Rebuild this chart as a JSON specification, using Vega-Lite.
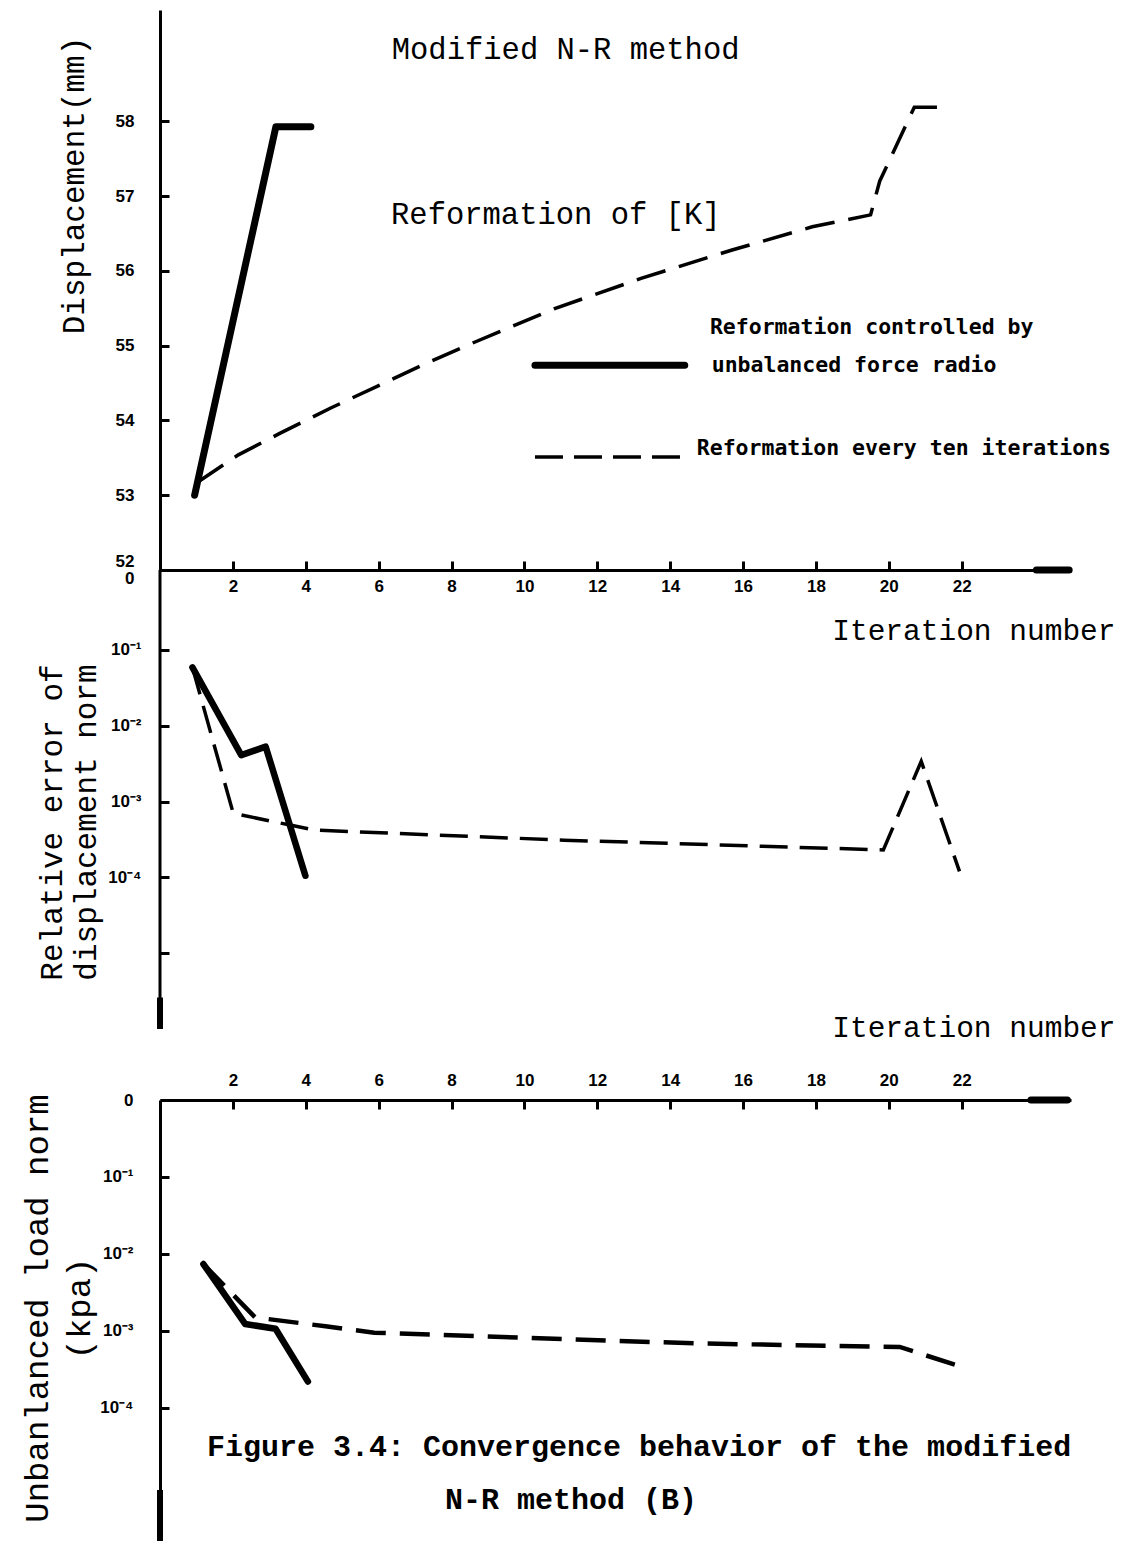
{
  "$schema": "https://vega.github.io/schema/vega-lite/v6.json",
  "background": "white",
  "padding": {"left": 19, "top": 10, "right": 5, "bottom": 0},
  "config": {
    "view": {"stroke": null},
    "axis": {
      "grid": false,
      "domainColor": "black",
      "tickColor": "black",
      "domainWidth": 3,
      "tickWidth": 3,
      "labelColor": "black",
      "titleColor": "black",
      "labelFont": "Liberation Sans Narrow, Liberation Sans, sans-serif",
      "labelFontWeight": "bold",
      "labelFontSize": 17,
      "titleFont": "Liberation Mono",
      "titleFontWeight": "normal"
    }
  },
  "datasets": {
    "curves": [
      {"panel": "disp", "series": "controlled", "iter": 0.95, "value": 53.0},
      {"panel": "disp", "series": "controlled", "iter": 3.18, "value": 57.93},
      {"panel": "disp", "series": "controlled", "iter": 4.14, "value": 57.93},
      {"panel": "disp", "series": "every10", "iter": 1.05, "value": 53.18},
      {"panel": "disp", "series": "every10", "iter": 2.15, "value": 53.54},
      {"panel": "disp", "series": "every10", "iter": 3.3, "value": 53.83},
      {"panel": "disp", "series": "every10", "iter": 4.7, "value": 54.17},
      {"panel": "disp", "series": "every10", "iter": 7.2, "value": 54.74},
      {"panel": "disp", "series": "every10", "iter": 8.55, "value": 55.03},
      {"panel": "disp", "series": "every10", "iter": 10.85, "value": 55.5},
      {"panel": "disp", "series": "every10", "iter": 13.2, "value": 55.9},
      {"panel": "disp", "series": "every10", "iter": 15.7, "value": 56.28},
      {"panel": "disp", "series": "every10", "iter": 17.9, "value": 56.59},
      {"panel": "disp", "series": "every10", "iter": 19.5, "value": 56.75},
      {"panel": "disp", "series": "every10", "iter": 19.75, "value": 57.2},
      {"panel": "disp", "series": "every10", "iter": 20.7, "value": 58.19},
      {"panel": "disp", "series": "every10", "iter": 21.7, "value": 58.19},
      {"panel": "err", "series": "controlled", "iter": 0.89, "value": 0.059},
      {"panel": "err", "series": "controlled", "iter": 2.23, "value": 0.0041},
      {"panel": "err", "series": "controlled", "iter": 2.9, "value": 0.0053},
      {"panel": "err", "series": "controlled", "iter": 3.99, "value": 0.000105},
      {"panel": "err", "series": "every10", "iter": 0.89, "value": 0.059},
      {"panel": "err", "series": "every10", "iter": 2.01, "value": 0.0007},
      {"panel": "err", "series": "every10", "iter": 3.57, "value": 0.00049},
      {"panel": "err", "series": "every10", "iter": 4.24, "value": 0.00042},
      {"panel": "err", "series": "every10", "iter": 11.08, "value": 0.00031},
      {"panel": "err", "series": "every10", "iter": 19.85, "value": 0.00023},
      {"panel": "err", "series": "every10", "iter": 20.89, "value": 0.0034},
      {"panel": "err", "series": "every10", "iter": 21.94, "value": 0.00012},
      {"panel": "load", "series": "controlled", "iter": 1.19, "value": 0.0074},
      {"panel": "load", "series": "controlled", "iter": 2.34, "value": 0.00123},
      {"panel": "load", "series": "controlled", "iter": 3.17, "value": 0.00107},
      {"panel": "load", "series": "controlled", "iter": 4.06, "value": 0.00022},
      {"panel": "load", "series": "every10", "iter": 1.19, "value": 0.0074},
      {"panel": "load", "series": "every10", "iter": 2.61, "value": 0.0015},
      {"panel": "load", "series": "every10", "iter": 4.54, "value": 0.00115},
      {"panel": "load", "series": "every10", "iter": 5.88, "value": 0.00095},
      {"panel": "load", "series": "every10", "iter": 14.65, "value": 0.00069},
      {"panel": "load", "series": "every10", "iter": 20.3, "value": 0.00062},
      {"panel": "load", "series": "every10", "iter": 22.01, "value": 0.00034}
    ]
  },
  "bounds": "flush",
  "spacing": 0,
  "vconcat": [
    {
      "width": 911,
      "height": 560,
      "data": {"name": "curves"},
      "transform": [{"filter": "datum.panel == 'disp'"}],
      "layer": [
        {
          "transform": [{"filter": "datum.series == 'controlled'"}],
          "mark": {"type": "line", "color": "black", "strokeWidth": 7, "strokeCap": "round", "strokeJoin": "round"},
          "encoding": {
            "x": {
              "field": "iter", "type": "quantitative",
              "scale": {"domain": [0, 25], "nice": false, "zero": false},
              "axis": {
                "values": [2, 4, 6, 8, 10, 12, 14, 16, 18, 20, 22],
                "tickSize": -9, "labelPadding": 17, "labelBaseline": "top",
                "title": "Iteration number", "titleFontSize": 29.5,
                "titleX": 955, "titleY": 60, "titleAlign": "right", "titleBaseline": "middle", "titleAngle": 0
              }
            },
            "y": {
              "field": "value", "type": "quantitative",
              "scale": {"domain": [52, 59.49], "nice": false, "zero": false},
              "axis": {
                "values": [52, 53, 54, 55, 56, 57, 58],
                "labelExpr": "datum.value == 52 ? ['52', '0'] : format(datum.value, 'd')",
                "labelLineHeight": 17,
                "labelOffset": {"condition": {"test": "datum.value == 52", "value": -9}, "value": 0},
                "tickSize": -9, "labelPadding": 35,
                "title": "Displacement(mm)", "titleFontSize": 31,
                "titleAngle": -90, "titleX": -86, "titleY": 175, "titleAlign": "center", "titleBaseline": "middle"
              }
            }
          }
        },
        {
          "transform": [{"filter": "datum.series == 'every10'"}],
          "mark": {"type": "line", "color": "black", "strokeWidth": 3.5, "strokeDash": [30, 14]},
          "encoding": {
            "x": {"field": "iter", "type": "quantitative"},
            "y": {"field": "value", "type": "quantitative"}
          }
        },
        {
          "data": {"values": [{}]},
          "mark": {"type": "text", "font": "Liberation Mono", "fontSize": 30.5, "align": "left", "baseline": "middle", "color": "black"},
          "encoding": {"x": {"datum": 6.36}, "y": {"datum": 58.95}, "text": {"value": "Modified N-R method"}}
        },
        {
          "data": {"values": [{}]},
          "mark": {"type": "text", "font": "Liberation Mono", "fontSize": 30.5, "align": "left", "baseline": "middle", "color": "black"},
          "encoding": {"x": {"datum": 6.34}, "y": {"datum": 56.75}, "text": {"value": "Reformation of [K]"}}
        },
        {
          "data": {"values": [{}]},
          "mark": {"type": "rule", "color": "black", "strokeWidth": 7, "strokeCap": "round"},
          "encoding": {"x": {"datum": 10.29}, "x2": {"datum": 14.4}, "y": {"datum": 54.74}}
        },
        {
          "data": {"values": [{}]},
          "mark": {"type": "rule", "color": "black", "strokeWidth": 3.5, "strokeDash": [28, 11]},
          "encoding": {"x": {"datum": 10.29}, "x2": {"datum": 14.32}, "y": {"datum": 53.51}}
        },
        {
          "data": {"values": [{}]},
          "mark": {"type": "text", "font": "DejaVu Sans Mono", "fontWeight": "bold", "fontSize": 21.5, "align": "left", "baseline": "middle", "color": "black"},
          "encoding": {"x": {"datum": 15.09}, "y": {"datum": 55.24}, "text": {"value": "Reformation controlled by"}}
        },
        {
          "data": {"values": [{}]},
          "mark": {"type": "text", "font": "DejaVu Sans Mono", "fontWeight": "bold", "fontSize": 21.5, "align": "left", "baseline": "middle", "color": "black"},
          "encoding": {"x": {"datum": 15.14}, "y": {"datum": 54.73}, "text": {"value": "unbalanced force radio"}}
        },
        {
          "data": {"values": [{}]},
          "mark": {"type": "text", "font": "DejaVu Sans Mono", "fontWeight": "bold", "fontSize": 21.5, "align": "left", "baseline": "middle", "color": "black"},
          "encoding": {"x": {"datum": 14.73}, "y": {"datum": 53.62}, "text": {"value": "Reformation every ten iterations"}}
        },
        {
          "data": {"values": [{}]},
          "mark": {"type": "rule", "color": "black", "strokeWidth": 7, "strokeCap": "round"},
          "encoding": {"x": {"datum": 24.05}, "x2": {"datum": 24.95}, "y": {"datum": 52}}
        }
      ]
    },
    {
      "width": 911,
      "height": 530,
      "data": {"name": "curves"},
      "transform": [{"filter": "datum.panel == 'err'"}],
      "layer": [
        {
          "transform": [{"filter": "datum.series == 'controlled'"}],
          "mark": {"type": "line", "color": "black", "strokeWidth": 6.5, "strokeCap": "round", "strokeJoin": "round"},
          "encoding": {
            "x": {"field": "iter", "type": "quantitative", "scale": {"domain": [0, 25], "nice": false, "zero": false}, "axis": null},
            "y": {
              "field": "value", "type": "quantitative",
              "scale": {"type": "log", "domain": [0.0000001156, 1.136], "nice": false},
              "axis": {
                "domain": false,
                "values": [0.1, 0.01, 0.001, 0.0001, 0.00001],
                "labelExpr": "datum.value > 0.05 ? '10⁻¹' : datum.value > 0.005 ? '10⁻²' : datum.value > 0.0005 ? '10⁻³' : datum.value > 0.00005 ? '10⁻⁴' : ''",
                "tickSize": -9, "labelPadding": 28,
                "title": ["Relative error of", "displacement norm"], "titleFontSize": 31, "titleLineHeight": 34,
                "titleAngle": -90, "titleX": -108, "titleY": 252, "titleAlign": "center", "titleBaseline": "middle"
              }
            }
          }
        },
        {
          "transform": [{"filter": "datum.series == 'every10'"}],
          "mark": {"type": "line", "color": "black", "strokeWidth": 3.5, "strokeDash": [28, 12]},
          "encoding": {
            "x": {"field": "iter", "type": "quantitative"},
            "y": {"field": "value", "type": "quantitative"}
          }
        },
        {
          "data": {"values": [{}]},
          "mark": {"type": "rule", "color": "black", "strokeWidth": 3},
          "encoding": {"x": {"datum": 0}, "y": {"datum": 1.136}, "y2": {"datum": 0.000001}}
        },
        {
          "data": {"values": [{}]},
          "mark": {"type": "rule", "color": "black", "strokeWidth": 6},
          "encoding": {"x": {"datum": 0}, "y": {"datum": 0.0000026}, "y2": {"datum": 0.000001}}
        }
      ]
    },
    {
      "width": 911,
      "height": 441,
      "data": {"name": "curves"},
      "transform": [{"filter": "datum.panel == 'load'"}],
      "layer": [
        {
          "transform": [{"filter": "datum.series == 'controlled'"}],
          "mark": {"type": "line", "color": "black", "strokeWidth": 6.5, "strokeCap": "round", "strokeJoin": "round"},
          "encoding": {
            "x": {
              "field": "iter", "type": "quantitative",
              "scale": {"domain": [0, 25], "nice": false, "zero": false},
              "axis": {
                "orient": "top",
                "values": [2, 4, 6, 8, 10, 12, 14, 16, 18, 20, 22],
                "tickSize": -9, "labelPadding": 20, "labelBaseline": "bottom",
                "title": "Iteration number", "titleFontSize": 29.5,
                "titleX": 955, "titleY": -73, "titleAlign": "right", "titleBaseline": "middle", "titleAngle": 0
              }
            },
            "y": {
              "field": "value", "type": "quantitative",
              "scale": {"type": "log", "domain": [0.00000187, 1], "nice": false},
              "axis": {
                "values": [1, 0.1, 0.01, 0.001, 0.0001],
                "labelExpr": "datum.value > 0.5 ? '0' : datum.value > 0.05 ? '10⁻¹' : datum.value > 0.005 ? '10⁻²' : datum.value > 0.0005 ? '10⁻³' : '10⁻⁴'",
                "tickSize": -9, "labelPadding": 36,
                "title": ["Unbanlanced load norm", "(kpa)"], "titleFontSize": 34, "titleLineHeight": 42,
                "titleAngle": -90, "titleX": -123, "titleY": 208, "titleAlign": "center", "titleBaseline": "middle"
              }
            }
          }
        },
        {
          "transform": [{"filter": "datum.series == 'every10'"}],
          "mark": {"type": "line", "color": "black", "strokeWidth": 4.5, "strokeDash": [30, 14]},
          "encoding": {
            "x": {"field": "iter", "type": "quantitative"},
            "y": {"field": "value", "type": "quantitative"}
          }
        },
        {
          "data": {"values": [{}]},
          "mark": {"type": "rule", "color": "black", "strokeWidth": 7, "strokeCap": "round"},
          "encoding": {"x": {"datum": 23.9}, "x2": {"datum": 24.9}, "y": {"datum": 1}}
        },
        {
          "data": {"values": [{}]},
          "mark": {"type": "rule", "color": "black", "strokeWidth": 6},
          "encoding": {"x": {"datum": 0}, "y": {"datum": 0.0000086}, "y2": {"datum": 0.00000187}}
        },
        {
          "data": {"values": [{}]},
          "mark": {"type": "text", "font": "Liberation Mono", "fontWeight": "bold", "fontSize": 30, "align": "left", "baseline": "middle", "color": "black"},
          "encoding": {"x": {"datum": 1.29}, "y": {"datum": 0.0000312}, "text": {"value": "Figure 3.4:  Convergence behavior of the modified"}}
        },
        {
          "data": {"values": [{}]},
          "mark": {"type": "text", "font": "Liberation Mono", "fontWeight": "bold", "fontSize": 30, "align": "left", "baseline": "middle", "color": "black"},
          "encoding": {"x": {"datum": 7.82}, "y": {"datum": 0.00000638}, "text": {"value": "N-R method (B)"}}
        }
      ]
    }
  ]
}
